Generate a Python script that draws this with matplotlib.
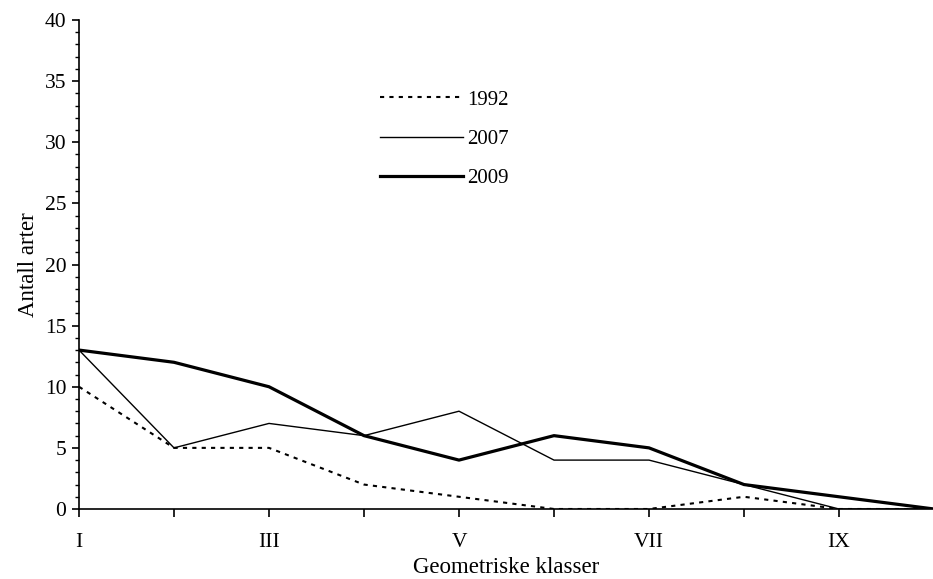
import matplotlib
matplotlib.use("Agg")
import matplotlib.pyplot as plt
from matplotlib.ticker import MultipleLocator

# species count per geometric size class
classes = ["I", "II", "III", "IV", "V", "VI", "VII", "VIII", "IX", "X"]
shown_labels = ["I", "", "III", "", "V", "", "VII", "", "IX", ""]
y1992 = [10, 5, 5, 2, 1, 0, 0, 1, 0, 0]
y2007 = [13, 5, 7, 6, 8, 4, 4, 2, 0, 0]
y2009 = [13, 12, 10, 6, 4, 6, 5, 2, 1, 0]

plt.rcParams["font.family"] = ["Liberation Serif", "DejaVu Serif"]

fig = plt.figure(figsize=(9.33, 5.79), dpi=100)
ax = fig.add_axes([79 / 933, 70 / 579, 855 / 933, 489 / 579])

x = list(range(len(classes)))
ax.plot(x, y1992, color="black", lw=1.5, linestyle=(0, (2, 2.5)), label="1992")
ax.plot(x, y2007, color="black", lw=1.0, label="2007")
ax.plot(x, y2009, color="black", lw=2.3, label="2009")

ax.set_xlim(0, len(classes) - 1)
ax.set_ylim(0, 40)
ax.set_xticks(x)
ax.set_xticklabels(shown_labels)
ax.yaxis.set_major_locator(MultipleLocator(5))
ax.yaxis.set_minor_locator(MultipleLocator(1))
ax.tick_params(axis="y", which="major", direction="out", length=5, width=1.2, labelsize=15.5, pad=4)
ax.tick_params(axis="y", which="minor", direction="out", length=3, width=1.0)
ax.tick_params(axis="x", which="major", direction="out", length=6, width=1.2, labelsize=15.5, pad=11)

for s in ("top", "right"):
    ax.spines[s].set_visible(False)
for s in ("left", "bottom"):
    ax.spines[s].set_linewidth(1.2)
ax.spines["bottom"].set_clip_on(False)

ax.set_xlabel("Geometriske klasser", fontsize=16.5, labelpad=4)
ax.set_ylabel("Antall arter", fontsize=16.5, labelpad=4)

ax.legend(loc="upper left", bbox_to_anchor=(0.33, 0.895), frameon=False,
          fontsize=15, handlelength=4.0, handletextpad=0.2, labelspacing=0.95)

fig.savefig("out.png", dpi=100)
